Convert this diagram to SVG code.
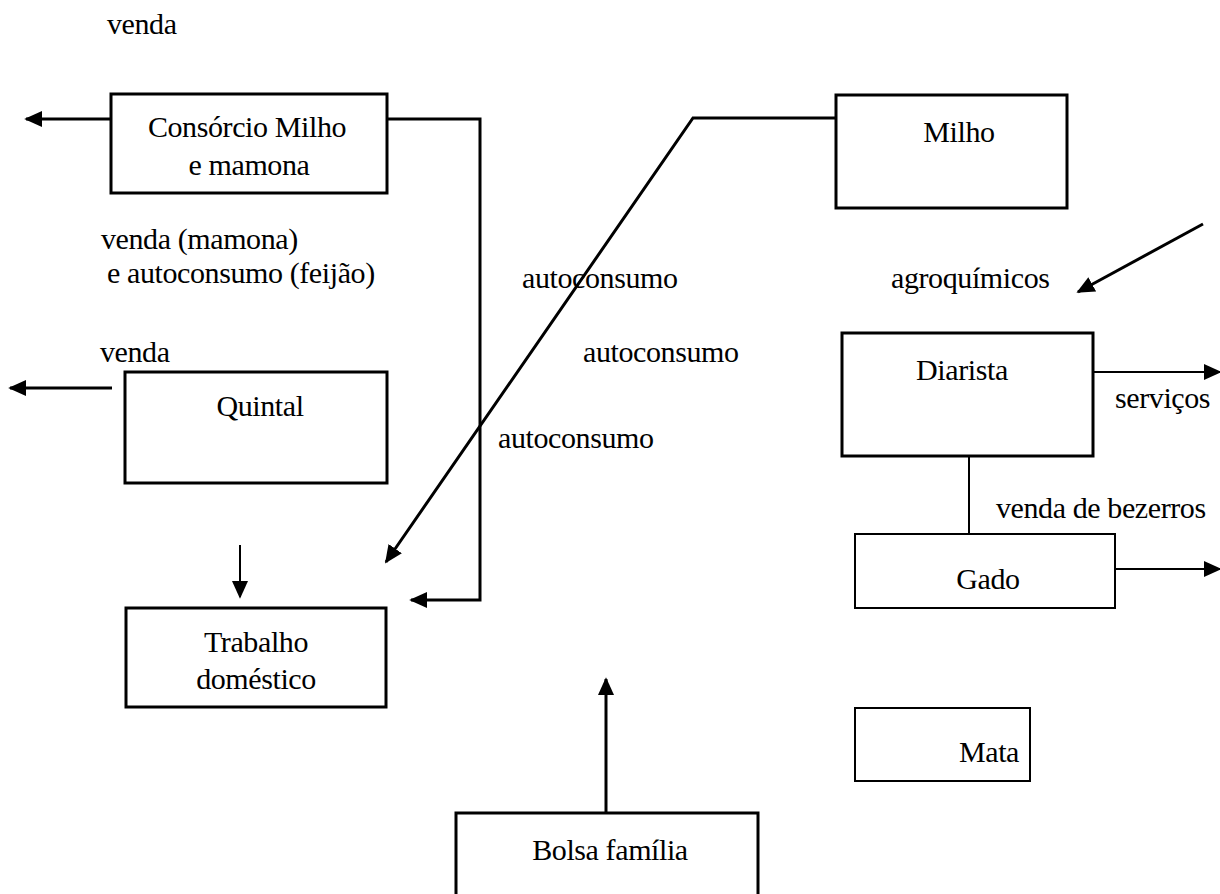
<svg xmlns="http://www.w3.org/2000/svg" width="1220" height="894" viewBox="0 0 1220 894">
<style>
.box{fill:#fff;stroke:#000;stroke-width:3}
.ln{fill:none;stroke:#000;stroke-width:3}
.thin{fill:none;stroke:#000;stroke-width:2}
text{font-family:"Liberation Serif","Times New Roman",serif;font-size:30px;fill:#000;letter-spacing:-0.4px}
.c{text-anchor:middle}
</style>
<defs>
<marker id="ahb" viewBox="0 0 10 10" refX="9" refY="5" markerWidth="18" markerHeight="18" markerUnits="userSpaceOnUse" orient="auto">
<path d="M0,0.5 L10,5 L0,9.5 z" fill="#000"/>
</marker>
</defs>
<rect width="1220" height="894" fill="#fff"/>
<g id="connectors">
<line class="ln" x1="111" y1="119" x2="26" y2="119" marker-end="url(#ahb)"/>
<polyline class="ln" points="387,119 480,119 480,600 411,600" marker-end="url(#ahb)"/>
<polyline class="ln" points="836,118 693,118 386,562" marker-end="url(#ahb)"/>
<line class="ln" x1="1203" y1="224" x2="1078" y2="292" marker-end="url(#ahb)"/>
<line class="ln" x1="112" y1="388" x2="10" y2="388" marker-end="url(#ahb)"/>
<line class="thin" x1="240" y1="545" x2="240" y2="597" marker-end="url(#ahb)"/>
<line class="thin" x1="1093" y1="372" x2="1220" y2="372" marker-end="url(#ahb)"/>
<line class="thin" x1="969" y1="456" x2="969" y2="534"/>
<line class="thin" x1="1115" y1="569" x2="1220" y2="569" marker-end="url(#ahb)"/>
<line class="ln" x1="606" y1="813" x2="606" y2="679" marker-end="url(#ahb)"/>
</g>
<g id="labels">
<text x="107" y="34">venda</text>
<text x="101" y="249">venda (mamona)</text>
<text x="107" y="283">e autoconsumo (feijão)</text>
<text x="522" y="288">autoconsumo</text>
<text x="891" y="288">agroquímicos</text>
<text x="100" y="362">venda</text>
<text x="583" y="362">autoconsumo</text>
<text x="1115" y="408">serviços</text>
<text x="498" y="448">autoconsumo</text>
<text x="996" y="518">venda de bezerros</text>
</g>
<g id="consorcio">
<rect class="box" x="111" y="94" width="276" height="99"/>
<text class="c" x="247" y="137">Consórcio Milho</text>
<text class="c" x="249" y="175">e mamona</text>
</g>
<g id="milho">
<rect class="box" x="836" y="95" width="231" height="113"/>
<text class="c" x="959" y="142">Milho</text>
</g>
<g id="quintal">
<rect class="box" x="125" y="372" width="262" height="111"/>
<text class="c" x="260" y="416">Quintal</text>
</g>
<g id="diarista">
<rect class="box" x="842" y="333" width="251" height="123"/>
<text class="c" x="962" y="380">Diarista</text>
</g>
<g id="gado">
<rect class="thin" x="855" y="534" width="260" height="74"/>
<text class="c" x="988" y="589">Gado</text>
</g>
<g id="trabalho">
<rect class="box" x="126" y="608" width="260" height="99"/>
<text class="c" x="256" y="652">Trabalho</text>
<text class="c" x="256" y="689">doméstico</text>
</g>
<g id="mata">
<rect class="thin" x="855" y="708" width="175" height="73"/>
<text class="c" x="989" y="762">Mata</text>
</g>
<g id="bolsa">
<rect class="box" x="456" y="813" width="302" height="100"/>
<text class="c" x="610" y="860">Bolsa família</text>
</g>
</svg>
